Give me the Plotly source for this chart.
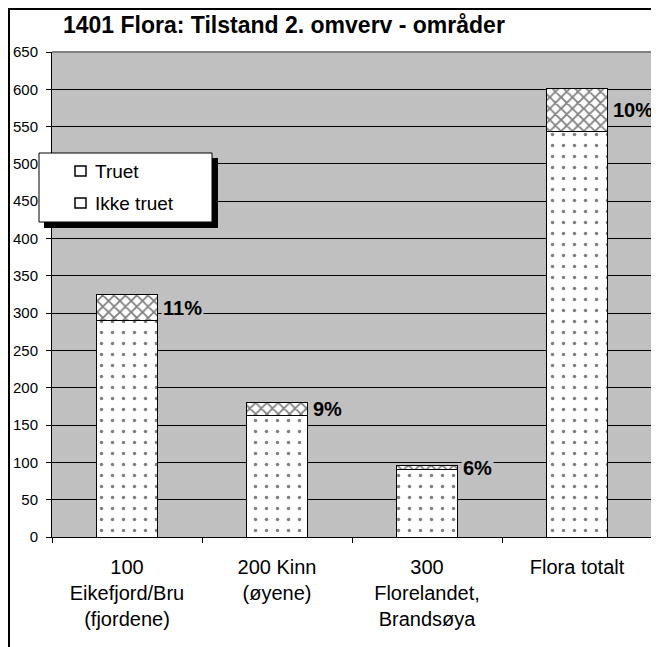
import plotly.graph_objects as go

# data
categories = ["100<br>Eikefjord/Bru<br>(fjordene)", "200 Kinn<br>(øyene)",
              "300<br>Florelandet,<br>Brandsøya", "Flora totalt"]
ikke_truet = [290, 163, 90, 543]
truet = [35, 17, 6, 58]
legend_names = ["Truet", "Ikke truet"]
title_text = "1401 Flora: Tilstand 2. omverv - områder"

FONT = "Arial, Liberation Sans, sans-serif"
PLOT_BG = "#c0c0c0"

# page has an 8px body margin, so the figure sits at (8, 8) in the window
W, H = 651, 639
L, R, T, B = 44, 4, 44, 110
PW, PH = W - L - R, H - T - B


def px(x):
    # window pixel -> paper x
    return (x - 8 - L) / PW


def py(y):
    # window pixel -> paper y
    return (H - B - (y - 8)) / PH


fig = go.Figure()
fig.add_trace(go.Bar(
    x=categories, y=ikke_truet, name="Ikke truet",
    marker=dict(color="white", line=dict(color="black", width=1),
                pattern=dict(shape=".", fgcolor="black", bgcolor="white", size=11, solidity=0.08)),
))
fig.add_trace(go.Bar(
    x=categories, y=truet, name="Truet",
    marker=dict(color="white", line=dict(color="black", width=1),
                pattern=dict(shape="x", fgcolor="black", bgcolor="white", size=8, solidity=0.4)),
))

# percentage labels beside the "Truet" segment
for cat, low, top in zip(categories, ikke_truet, truet):
    pct = round(top / (low + top) * 100)
    fig.add_annotation(
        x=cat, y=low + top / 2, text=f"<b>{pct}%</b>", showarrow=False,
        xanchor="left", yanchor="middle", xshift=34, bgcolor=PLOT_BG,
        font=dict(family=FONT, size=20, color="black"),
    )

# legend box drawn by hand (shadow, box, icons, labels)
fig.add_shape(type="rect", xref="paper", yref="paper",
              x0=px(44), x1=px(218), y0=py(228), y1=py(158),
              fillcolor="black", line=dict(width=0), layer="above")
fig.add_shape(type="rect", xref="paper", yref="paper",
              x0=px(39), x1=px(212), y0=py(222), y1=py(153),
              fillcolor="white", line=dict(color="black", width=1), layer="above")
for i, name in enumerate(legend_names):
    cy = 171 + i * 32
    fig.add_shape(type="rect", xref="paper", yref="paper",
                  x0=px(75), x1=px(86), y0=py(cy + 5), y1=py(cy - 5),
                  fillcolor="white", line=dict(color="black", width=1.5), layer="above")
    fig.add_annotation(x=px(93), y=py(cy), xref="paper", yref="paper", text=name,
                       showarrow=False, xanchor="left", yanchor="middle",
                       font=dict(family=FONT, size=19, color="black"))

# outer frame and grey plot-area border
fig.add_shape(type="rect", xref="paper", yref="paper",
              x0=px(9), x1=1.05, y0=-0.3, y1=py(9),
              line=dict(color="black", width=2), layer="above")
fig.add_shape(type="line", xref="paper", yref="paper", x0=0, x1=1, y0=1, y1=1,
              line=dict(color="#808080", width=2), layer="above")
fig.add_shape(type="line", xref="paper", yref="paper", x0=1, x1=1, y0=0, y1=1,
              line=dict(color="#808080", width=2), layer="above")

fig.update_layout(
    width=W, height=H,
    margin=dict(l=L, r=R, t=T, b=B),
    barmode="stack", bargap=0.59, showlegend=False,
    paper_bgcolor="white", plot_bgcolor=PLOT_BG,
    font=dict(family=FONT, color="black"),
    title=dict(text=f"<b>{title_text}</b>", x=(63 - 8) / W, xanchor="left",
               y=1 - (25 - 8) / H, yanchor="middle", font=dict(size=23, color="black")),
    xaxis=dict(showline=True, linecolor="black", linewidth=1, ticks="outside",
               tickson="boundaries", ticklen=5, tickcolor="black", automargin=False,
               tickfont=dict(size=20, color="black"), ticklabelstandoff=12),
    yaxis=dict(range=[0, 650], dtick=50, showline=True, linecolor="black", linewidth=1,
               ticks="outside", ticklen=5, tickcolor="black", showgrid=True,
               gridcolor="black", gridwidth=1, zeroline=False, automargin=False,
               tickfont=dict(size=15, color="black"), ticklabelstandoff=5),
)

fig.write_html("out.html")
